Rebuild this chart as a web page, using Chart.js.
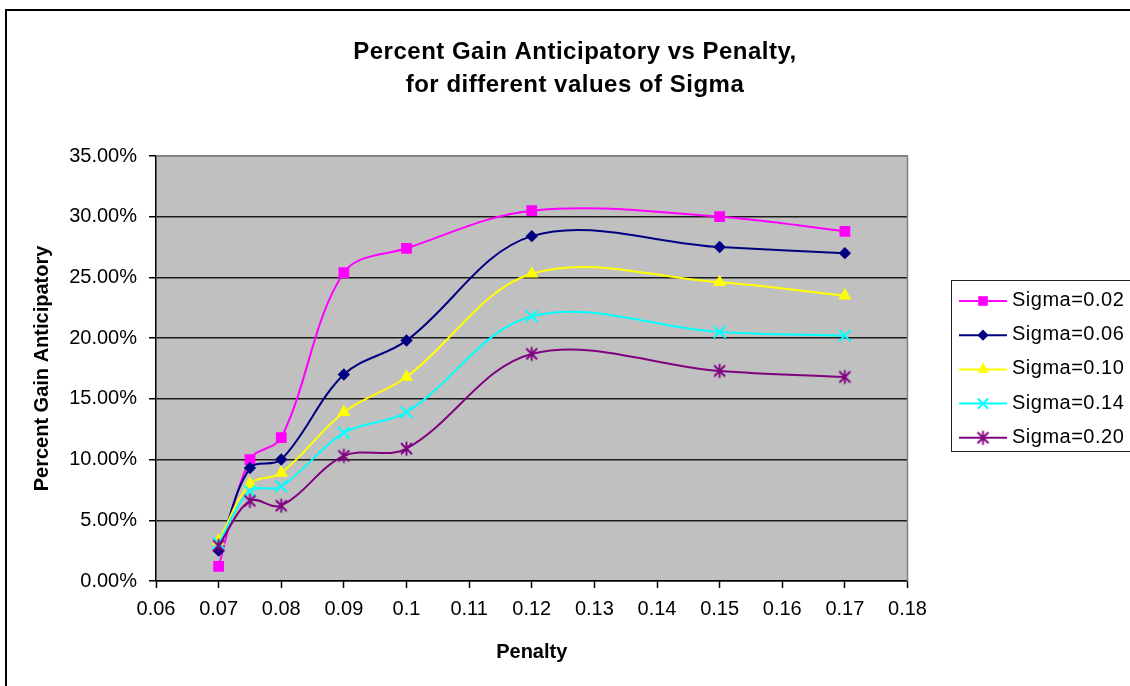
<!DOCTYPE html>
<html>
<head>
<meta charset="utf-8">
<title>Percent Gain Anticipatory vs Penalty</title>
<script src="https://cdn.jsdelivr.net/npm/chart.js@4.4.1/dist/chart.umd.min.js"></script>
<style>
  html, body { margin: 0; padding: 0; background: #ffffff; }
  #wrap { width: 1130px; height: 686px; position: relative; }
</style>
</head>
<body>
<div id="wrap"><canvas id="chart"></canvas></div>
<script>
// Penalty values (x) and percent gain (y, in %) for each sigma
const penalty = [0.07, 0.075, 0.08, 0.09, 0.10, 0.12, 0.15, 0.17];
const seriesNames = ['Sigma=0.02', 'Sigma=0.06', 'Sigma=0.10', 'Sigma=0.14', 'Sigma=0.20'];
const gainSigma002 = [1.2, 10.0, 11.8, 25.4, 27.4, 30.5, 30.0, 28.8];
const gainSigma006 = [2.5, 9.3, 10.0, 17.0, 19.8, 28.4, 27.5, 27.0];
const gainSigma010 = [3.3, 8.0, 8.9, 13.9, 16.8, 25.3, 24.6, 23.5];
const gainSigma014 = [3.1, 7.4, 7.8, 12.2, 13.9, 21.8, 20.5, 20.2];
const gainSigma020 = [2.9, 6.6, 6.2, 10.3, 10.9, 18.7, 17.3, 16.8];
const xTickLabels = ['0.06', '0.07', '0.08', '0.09', '0.1', '0.11', '0.12', '0.13', '0.14', '0.15', '0.16', '0.17', '0.18'];
const yTickLabels = ['0.00%', '5.00%', '10.00%', '15.00%', '20.00%', '25.00%', '30.00%', '35.00%'];
const titleLines = ['Percent Gain Anticipatory vs Penalty,', 'for different values of Sigma'];
const xAxisTitle = 'Penalty';
const yAxisTitle = 'Percent Gain Anticipatory';

const gainSeries = [gainSigma002, gainSigma006, gainSigma010, gainSigma014, gainSigma020];
const FONT = '"Liberation Sans", Arial, Helvetica, sans-serif';

// asterisk marker: an X crossed by a vertical stroke
function asteriskMarker(color) {
  const c = document.createElement('canvas');
  c.width = 17; c.height = 17;
  const g = c.getContext('2d');
  g.strokeStyle = color;
  g.lineWidth = 1.9;
  g.beginPath();
  g.moveTo(3, 3); g.lineTo(14, 14);
  g.moveTo(14, 3); g.lineTo(3, 14);
  g.moveTo(8.5, 1.5); g.lineTo(8.5, 15.5);
  g.stroke();
  return c;
}

const seriesStyles = [
  { color: '#FF00FF', pointStyle: 'rect',     radius: 7.6, borderWidth: 0 },
  { color: '#000080', pointStyle: 'rectRot',  radius: 6.2, borderWidth: 0 },
  { color: '#FFFF00', pointStyle: 'triangle', radius: 7.6, borderWidth: 0 },
  { color: '#00FFFF', pointStyle: 'crossRot', radius: 8.2, borderWidth: 2 },
  { color: '#800080', pointStyle: asteriskMarker('#800080'), radius: 7, borderWidth: 0 }
];

const datasets = seriesNames.map((name, i) => {
  const st = seriesStyles[i];
  return {
    label: name,
    data: penalty.map((x, j) => ({ x: x, y: gainSeries[i][j] })),
    borderColor: st.color,
    backgroundColor: st.color,
    borderWidth: 2,
    tension: 0.35,
    fill: false,
    pointStyle: st.pointStyle,
    pointRadius: st.radius,
    pointBorderWidth: st.borderWidth,
    pointBackgroundColor: st.color,
    pointBorderColor: st.color,
    order: seriesNames.length - i
  };
});

// plot background, frame, title and legend box
const sheetDecor = {
  id: 'sheetDecor',
  beforeDraw(chart) {
    const { ctx, chartArea: a } = chart;
    ctx.save();
    ctx.fillStyle = '#ffffff';
    ctx.fillRect(0, 0, chart.width, chart.height);
    ctx.fillStyle = '#C0C0C0';
    ctx.fillRect(a.left, a.top, a.right - a.left, a.bottom - a.top);
    ctx.restore();
  },
  beforeDatasetsDraw(chart) {
    const { ctx, chartArea: a } = chart;
    ctx.save();
    ctx.strokeStyle = '#808080';
    ctx.lineWidth = 1.5;
    ctx.beginPath();
    ctx.moveTo(a.left, a.top);
    ctx.lineTo(a.right, a.top);
    ctx.lineTo(a.right, a.bottom);
    ctx.stroke();
    ctx.restore();
  },
  afterDraw(chart) {
    const ctx = chart.ctx;
    ctx.save();
    // outer frame
    ctx.fillStyle = '#000000';
    ctx.fillRect(5, 9, 2, chart.height);
    ctx.fillRect(5, 9, chart.width, 2);

    // title
    ctx.fillStyle = '#000000';
    ctx.font = 'bold 24px ' + FONT;
    ctx.letterSpacing = '0.5px';
    ctx.textAlign = 'center';
    ctx.textBaseline = 'alphabetic';
    ctx.fillText(titleLines[0], 575, 59);
    ctx.fillText(titleLines[1], 575, 91.5);

    // legend
    ctx.letterSpacing = '0px';
    ctx.strokeStyle = '#222222';
    ctx.lineWidth = 1;
    ctx.strokeRect(951.5, 280.5, 400, 171);
    ctx.font = '20px ' + FONT;
    ctx.letterSpacing = '0.5px';
    ctx.textAlign = 'left';
    ctx.textBaseline = 'middle';
    chart.data.datasets.forEach((ds, i) => {
      const st = seriesStyles[i];
      const y = 301 + i * 34.2;
      ctx.strokeStyle = st.color;
      ctx.lineWidth = 2;
      ctx.beginPath();
      ctx.moveTo(959, y);
      ctx.lineTo(1007, y);
      ctx.stroke();
      ctx.fillStyle = st.color;
      ctx.strokeStyle = st.color;
      ctx.lineWidth = st.borderWidth;
      Chart.helpers.drawPoint(ctx, { pointStyle: st.pointStyle, radius: st.radius * 0.9, rotation: 0, borderWidth: st.borderWidth }, 983, y);
      ctx.fillStyle = '#000000';
      ctx.fillText(ds.label, 1012, y - 0.5);
    });
    ctx.restore();
  }
};

new Chart(document.getElementById('chart'), {
  type: 'line',
  data: { datasets: datasets },
  options: {
    responsive: true,
    maintainAspectRatio: false,
    animation: false,
    events: [],
    layout: { padding: { top: 156, right: 222.5, bottom: 0, left: 0 } },
    plugins: {
      legend: { display: false },
      title: { display: false },
      tooltip: { enabled: false }
    },
    scales: {
      x: {
        type: 'linear',
        min: 0.06,
        max: 0.18,
        ticks: {
          stepSize: 0.01,
          autoSkip: false,
          maxRotation: 0,
          color: '#000000',
          padding: 9,
          font: { family: FONT, size: 20 },
          callback: (v, i) => xTickLabels[i]
        },
        grid: { drawOnChartArea: false, drawTicks: true, tickLength: 7, tickColor: '#000000', tickWidth: 1.5 },
        border: { display: true, color: '#000000', width: 1.5 },
        title: {
          display: true, text: xAxisTitle, color: '#000000',
          font: { family: FONT, size: 20, weight: 'bold' },
          padding: { top: 0, bottom: 22 }
        },
        afterFit: (s) => { s.height = 105; }
      },
      y: {
        type: 'linear',
        min: 0,
        max: 35,
        ticks: {
          stepSize: 5,
          color: '#000000',
          padding: 12,
          font: { family: FONT, size: 20 },
          callback: (v, i) => yTickLabels[i]
        },
        grid: {
          color: (c) => (c.tick && c.tick.value === 35) ? '#808080' : '#1a1a1a',
          lineWidth: 1.5,
          drawTicks: true,
          tickLength: 7,
          tickColor: '#000000',
          tickWidth: 1.5
        },
        border: { display: true, color: '#000000', width: 1.5 },
        title: {
          display: true, text: yAxisTitle, color: '#000000',
          font: { family: FONT, size: 20, weight: 'bold' },
          padding: { top: 30, bottom: 0 }
        },
        afterFit: (s) => { s.width = 156; }
      }
    }
  },
  plugins: [sheetDecor]
});
</script>
</body>
</html>
